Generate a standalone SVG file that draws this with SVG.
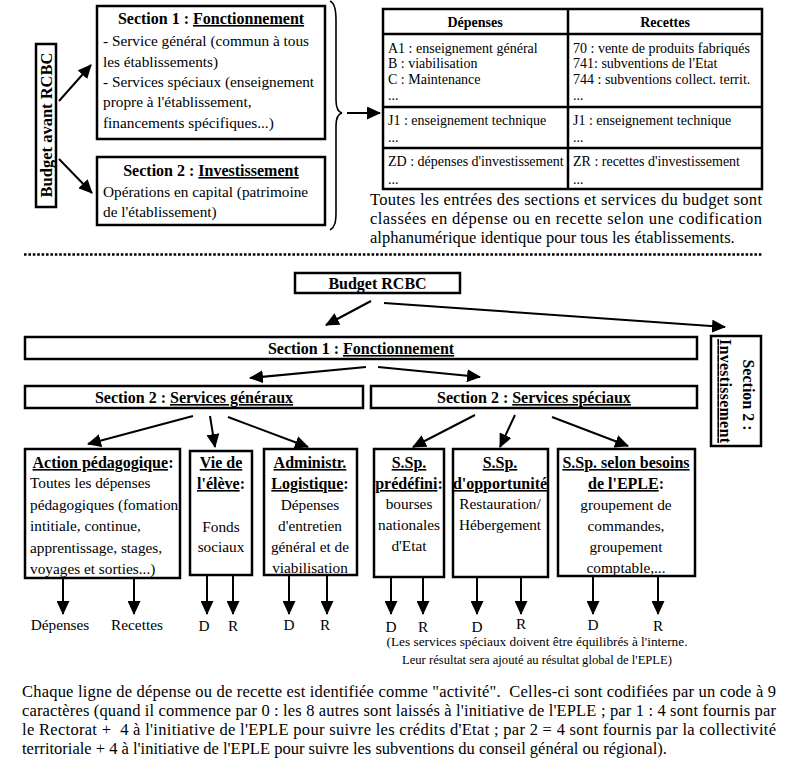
<svg xmlns="http://www.w3.org/2000/svg" width="788" height="760" viewBox="0 0 788 760">
<style>
.bx{fill:#fff;stroke:#000;stroke-width:2.5}
.ln{fill:none;stroke:#000;stroke-width:2;marker-end:url(#ah)}
.t{font-family:"Liberation Serif","Times New Roman",serif;font-size:15.3px;fill:#000}
.s{font-size:14px}
.h{font-weight:bold;font-size:16px}
.c{text-anchor:middle}
.u{text-decoration:underline}
.p{font-size:16.5px}
</style>
<defs>
<marker id="ah" viewBox="0 0 14 13" refX="13" refY="6.5" markerWidth="14" markerHeight="13" markerUnits="userSpaceOnUse" orient="auto">
<path d="M0,0 L14,6.5 L0,13 z" fill="#000"/>
</marker>
</defs>
<rect width="788" height="760" fill="#fff"/>

<!-- TOP PART -->
<g id="budget-avant">
<rect class="bx" x="36" y="44" width="20" height="163"/>
<text class="t h c" transform="translate(46,125) rotate(-90)" x="0" y="5.5" style="font-size:16.5px">Budget avant RCBC</text>
</g>
<g id="top-section1">
<rect class="bx" x="97" y="6" width="228" height="133"/>
<text class="t h c" x="211" y="24">Section 1 : <tspan class="u">Fonctionnement</tspan></text>
<text class="t" x="103" y="46">- Service général (commun à tous</text>
<text class="t" x="103" y="67">les établissements)</text>
<text class="t" x="103" y="87">- Services spéciaux (enseignement</text>
<text class="t" x="103" y="107">propre à l'établissement,</text>
<text class="t" x="103" y="128">financements spécifiques...)</text>
</g>
<g id="top-section2">
<rect class="bx" x="97" y="157" width="228" height="68"/>
<text class="t h c" x="211" y="176">Section 2 : <tspan class="u">Investissement</tspan></text>
<text class="t" x="103" y="197">Opérations en capital (patrimoine</text>
<text class="t" x="103" y="217">de l'établissement)</text>
</g>
<g id="brace">
<path d="M330,1 C335,3 336,10 336,20 L336,100 C336,108 338,112 342,113 C338,114 336,118 336,126 L336,212 C336,222 335,227 330,230" fill="none" stroke="#000" stroke-width="1.6"/>
</g>
<g id="table">
<rect x="383" y="9" width="379" height="180" fill="#fff" stroke="#000" stroke-width="2.5"/>
<line x1="568" y1="9" x2="568" y2="189" stroke="#000" stroke-width="2.5"/>
<line x1="383" y1="34" x2="762" y2="34" stroke="#000" stroke-width="2.5"/>
<line x1="383" y1="107" x2="762" y2="107" stroke="#000" stroke-width="2.5"/>
<line x1="383" y1="148" x2="762" y2="148" stroke="#000" stroke-width="2.5"/>
<text class="t s c" x="475" y="27" font-weight="bold">Dépenses</text>
<text class="t s c" x="665" y="27" font-weight="bold">Recettes</text>
<text class="t s" x="388" y="53">A1 : enseignement général</text>
<text class="t s" x="388" y="68">B : viabilisation</text>
<text class="t s" x="388" y="84">C : Maintenance</text>
<text class="t s" x="388" y="100">...</text>
<text class="t s" x="388" y="125">J1 : enseignement technique</text>
<text class="t s" x="388" y="142">...</text>
<text class="t s" x="388" y="166">ZD : dépenses d'investissement</text>
<text class="t s" x="388" y="184">...</text>
<text class="t s" x="573" y="53">70 : vente de produits fabriqués</text>
<text class="t s" x="573" y="68">741: subventions de l'Etat</text>
<text class="t s" x="573" y="84">744 : subventions collect. territ.</text>
<text class="t s" x="573" y="100">...</text>
<text class="t s" x="573" y="125">J1 : enseignement technique</text>
<text class="t s" x="573" y="142">...</text>
<text class="t s" x="573" y="166">ZR : recettes d'investissement</text>
<text class="t s" x="573" y="184">...</text>
</g>
<g id="table-note">
<text class="t p" x="370" y="205" textLength="392" lengthAdjust="spacing">Toutes les entrées des sections et services du budget sont</text>
<text class="t p" x="370" y="224" textLength="392" lengthAdjust="spacing">classées en dépense ou en recette selon une codification</text>
<text class="t p" x="370" y="243">alphanumérique identique pour tous les établissements.</text>
</g>
<line x1="24" y1="254.5" x2="763" y2="254.5" stroke="#000" stroke-width="2.5" stroke-dasharray="2.6 1.8"/>

<!-- BOTTOM PART -->
<g id="budget-rcbc">
<rect class="bx" x="295" y="273" width="165" height="20"/>
<text class="t h c" x="377.5" y="289">Budget RCBC</text>
</g>
<g id="section1">
<rect class="bx" x="25" y="337" width="672" height="22"/>
<text class="t h c" x="361" y="354">Section 1 : <tspan class="u">Fonctionnement</tspan></text>
</g>
<g id="section2-invest">
<rect class="bx" x="711" y="336" width="50" height="110"/>
<text class="t h c" transform="translate(748,395) rotate(90)" x="0" y="5">Section 2 :</text>
<text class="t h c u" transform="translate(725,391) rotate(90)" x="0" y="5" textLength="104" lengthAdjust="spacing">Investissement</text>
</g>
<g id="services-generaux">
<rect class="bx" x="25" y="386" width="338" height="22"/>
<text class="t h c" x="194" y="403">Section 2 : <tspan class="u">Services généraux</tspan></text>
</g>
<g id="services-speciaux">
<rect class="bx" x="371" y="386" width="326" height="22"/>
<text class="t h c" x="534" y="403">Section 2 : <tspan class="u">Services spéciaux</tspan></text>
</g>

<g id="action-pedagogique">
<rect class="bx" x="25" y="449" width="155" height="129"/>
<text class="t h c" x="103" y="468"><tspan class="u">Action pédagogique</tspan>:</text>
<text class="t" x="30" y="488">Toutes les dépenses</text>
<text class="t" x="30" y="510">pédagogiques (fomation</text>
<text class="t" x="30" y="531">intitiale, continue,</text>
<text class="t" x="30" y="553">apprentissage, stages,</text>
<text class="t" x="30" y="574">voyages et sorties...)</text>
</g>
<g id="vie-eleve">
<rect class="bx" x="190" y="451" width="62" height="124"/>
<text class="t h c u" x="221" y="468">Vie de</text>
<text class="t h c" x="221" y="489"><tspan class="u">l'élève</tspan>:</text>
<text class="t c" x="221" y="532">Fonds</text>
<text class="t c" x="221" y="552">sociaux</text>
</g>
<g id="administr-logistique">
<rect class="bx" x="264" y="449" width="93" height="126"/>
<text class="t h c u" x="310" y="468">Administr.</text>
<text class="t h c" x="310" y="489"><tspan class="u">Logistique</tspan>:</text>
<text class="t c" x="310" y="510">Dépenses</text>
<text class="t c" x="310" y="531">d'entretien</text>
<text class="t c" x="310" y="552">général et de</text>
<text class="t c" x="310" y="573">viabilisation</text>
</g>
<g id="ssp-predefini">
<rect class="bx" x="374" y="449" width="70" height="128"/>
<text class="t h c u" x="409" y="468">S.Sp.</text>
<text class="t h c" x="409" y="489"><tspan class="u">prédéfini</tspan>:</text>
<text class="t c" x="409" y="509">bourses</text>
<text class="t c" x="409" y="530">nationales</text>
<text class="t c" x="409" y="551">d'Etat</text>
</g>
<g id="ssp-opportunite">
<rect class="bx" x="453" y="449" width="95" height="128"/>
<text class="t h c u" x="500" y="468">S.Sp.</text>
<text class="t h c u" x="500" y="489">d'opportunité</text>
<text class="t c" x="500" y="509">Restauration/</text>
<text class="t c" x="500" y="530">Hébergement</text>
</g>
<g id="ssp-besoins">
<rect class="bx" x="558" y="449" width="137" height="127"/>
<text class="t h c u" x="626" y="468">S.Sp. selon besoins</text>
<text class="t h c" x="626" y="489"><tspan class="u">de l'EPLE</tspan>:</text>
<text class="t c" x="626" y="510">groupement de</text>
<text class="t c" x="626" y="531">commandes,</text>
<text class="t c" x="626" y="552">groupement</text>
<text class="t c" x="626" y="573">comptable,...</text>
</g>

<g id="connectors">
<line class="ln" x1="59" y1="101" x2="91" y2="65"/>
<line class="ln" x1="59" y1="159" x2="92" y2="193"/>
<line class="ln" x1="347" y1="113" x2="380" y2="113"/>
<line class="ln" x1="371" y1="301" x2="326" y2="325"/>
<line class="ln" x1="384" y1="303" x2="725" y2="327"/>
<line class="ln" x1="366" y1="367" x2="250" y2="378"/>
<line class="ln" x1="378" y1="367" x2="480" y2="377"/>
<line class="ln" x1="193" y1="416" x2="88" y2="444"/>
<line class="ln" x1="210" y1="416" x2="215" y2="447"/>
<line class="ln" x1="228" y1="417" x2="308" y2="447"/>
<line class="ln" x1="475" y1="415" x2="413" y2="447"/>
<line class="ln" x1="515" y1="415" x2="500" y2="447"/>
<line class="ln" x1="552" y1="417" x2="628" y2="446"/>
<line class="ln" x1="63" y1="578" x2="63" y2="614"/>
<line class="ln" x1="134" y1="578" x2="134" y2="614"/>
<line class="ln" x1="207" y1="575" x2="207" y2="614"/>
<line class="ln" x1="233" y1="575" x2="233" y2="614"/>
<line class="ln" x1="289" y1="575" x2="289" y2="614"/>
<line class="ln" x1="327" y1="575" x2="327" y2="614"/>
<line class="ln" x1="391" y1="577" x2="391" y2="614"/>
<line class="ln" x1="423" y1="577" x2="423" y2="614"/>
<line class="ln" x1="477" y1="577" x2="477" y2="614"/>
<line class="ln" x1="521" y1="577" x2="521" y2="614"/>
<line class="ln" x1="593" y1="576" x2="593" y2="614"/>
<line class="ln" x1="658" y1="576" x2="658" y2="614"/>
</g>

<g id="dr-labels">
<text class="t c" x="60" y="630">Dépenses</text>
<text class="t c" x="137" y="630">Recettes</text>
<text class="t c" x="204" y="631">D</text>
<text class="t c" x="233" y="631">R</text>
<text class="t c" x="289" y="630">D</text>
<text class="t c" x="325" y="630">R</text>
<text class="t c" x="391" y="632">D</text>
<text class="t c" x="423" y="632">R</text>
<text class="t c" x="477" y="632">D</text>
<text class="t c" x="521" y="629">R</text>
<text class="t c" x="593" y="630">D</text>
<text class="t c" x="658" y="631">R</text>
</g>
<g id="note">
<text class="t c" x="537" y="646" textLength="301" lengthAdjust="spacingAndGlyphs" style="font-size:13px">(Les services spéciaux doivent être équilibrés à l'interne.</text>
<text class="t c" x="537" y="664" textLength="270" lengthAdjust="spacingAndGlyphs" style="font-size:13px">Leur résultat sera ajouté au résultat global de l'EPLE)</text>
</g>
<g id="paragraph">
<text class="t p" x="22" y="697" textLength="754" lengthAdjust="spacing" xml:space="preserve">Chaque ligne de dépense ou de recette est identifiée comme "activité".  Celles-ci sont codifiées par un code à 9</text>
<text class="t p" x="22" y="716" textLength="754" lengthAdjust="spacing">caractères (quand il commence par 0 : les 8 autres sont laissés à l'initiative de l'EPLE ; par 1 : 4 sont fournis par</text>
<text class="t p" x="22" y="735" textLength="754" lengthAdjust="spacing" xml:space="preserve">le Rectorat +  4 à l'initiative de l'EPLE pour suivre les crédits d'Etat ; par 2 = 4 sont fournis par la collectivité</text>
<text class="t p" x="22" y="754">territoriale + 4 à l'initiative de l'EPLE pour suivre les subventions du conseil général ou régional).</text>
</g>
</svg>
